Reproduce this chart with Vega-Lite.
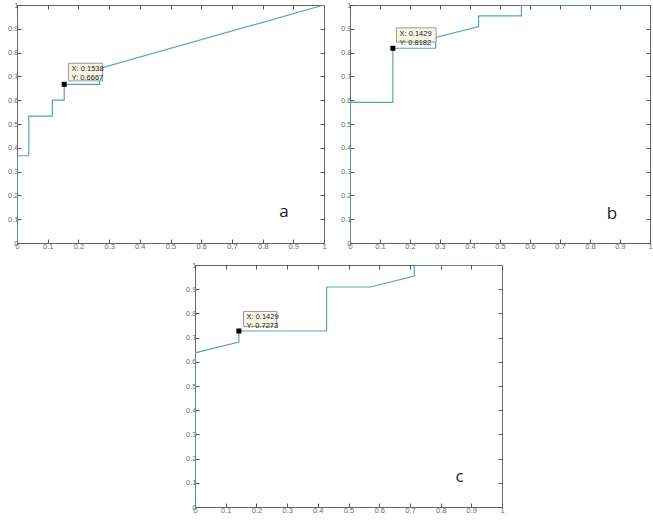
{
  "$schema": "https://vega.github.io/schema/vega-lite/v6.json",
  "autosize": {"type": "pad"},
  "padding": {"left": 7, "top": 0, "right": 0, "bottom": 0},
  "background": "white",
  "config": {
    "view": {"stroke": "#666", "strokeWidth": 1},
    "axis": {
      "grid": false,
      "domain": false,
      "ticks": true,
      "tickSize": -4,
      "tickColor": "#555",
      "labelFont": "Liberation Sans",
      "labelFontSize": 7.5,
      "labelColor": "#6a6a6a",
      "labelPadding": 3,
      "labelOverlap": false,
      "labelBound": false,
      "labelFlush": false,
      "title": null,
      "format": "~g"
    }
  },
  "spacing": 10,
  "vconcat": [
    {
      "spacing": 13,
      "hconcat": [
        {
          "width": 307,
          "height": 238,
          "data": {"values": [
            {"i": 0, "x": 0, "y": 0},
            {"i": 1, "x": 0, "y": 0.3667},
            {"i": 2, "x": 0.0385, "y": 0.3667},
            {"i": 3, "x": 0.0385, "y": 0.5333},
            {"i": 4, "x": 0.1154, "y": 0.5333},
            {"i": 5, "x": 0.1154, "y": 0.6},
            {"i": 6, "x": 0.1538, "y": 0.6},
            {"i": 7, "x": 0.1538, "y": 0.6667},
            {"i": 8, "x": 0.2692, "y": 0.6667},
            {"i": 9, "x": 0.2692, "y": 0.7333},
            {"i": 10, "x": 1, "y": 1}
          ]},
          "layer": [
            {
              "mark": {"type": "line", "color": "#5b9fc6", "strokeWidth": 1.2, "clip": true},
              "encoding": {
                "x": {"field": "x", "type": "quantitative", "scale": {"domain": [0, 1], "nice": false}, "axis": {"orient": "bottom", "values": [0, 0.1, 0.2, 0.3, 0.4, 0.5, 0.6, 0.7, 0.8, 0.9, 1]}},
                "y": {"field": "y", "type": "quantitative", "scale": {"domain": [0, 1], "nice": false}, "axis": {"orient": "left", "values": [0, 0.1, 0.2, 0.3, 0.4, 0.5, 0.6, 0.7, 0.8, 0.9, 1]}},
                "order": {"field": "i"}
              }
            },
            {
              "mark": {"type": "line", "opacity": 0},
              "encoding": {
                "x": {"field": "x", "type": "quantitative", "axis": {"orient": "top", "labels": false, "values": [0, 0.1, 0.2, 0.3, 0.4, 0.5, 0.6, 0.7, 0.8, 0.9, 1]}},
                "y": {"field": "y", "type": "quantitative", "axis": {"orient": "right", "labels": false, "values": [0, 0.1, 0.2, 0.3, 0.4, 0.5, 0.6, 0.7, 0.8, 0.9, 1]}},
                "order": {"field": "i"}
              }
            },
            {
              "data": {"values": [{"x1": 0.168, "x2": 0.279, "y1": 0.681, "y2": 0.755, "tip": "X: 0.1538\nY: 0.6667", "px": 0.1538, "py": 0.6667}]},
              "layer": [
                {
                  "mark": {"type": "rect", "fill": "#f7f5e4", "stroke": "#9a9a9a", "strokeWidth": 1},
                  "encoding": {
                    "x": {"field": "x1", "type": "quantitative", "axis": null},
                    "x2": {"field": "x2"},
                    "y": {"field": "y1", "type": "quantitative", "axis": null},
                    "y2": {"field": "y2"}
                  }
                },
                {
                  "mark": {"type": "text", "align": "left", "baseline": "top", "dx": 3, "dy": 2, "fontSize": 7.5, "font": "Liberation Sans", "color": "#222", "lineBreak": "\n", "lineHeight": 9},
                  "encoding": {
                    "x": {"field": "x1", "type": "quantitative", "axis": null},
                    "y": {"field": "y2", "type": "quantitative", "axis": null},
                    "text": {"field": "tip"}
                  }
                },
                {
                  "mark": {"type": "square", "size": 25, "color": "black", "opacity": 1, "filled": true},
                  "encoding": {
                    "x": {"field": "px", "type": "quantitative", "axis": null},
                    "y": {"field": "py", "type": "quantitative", "axis": null}
                  }
                }
              ]
            },
            {
              "data": {"values": [{"lx": 0.87, "ly": 0.13, "label": "a"}]},
              "mark": {"type": "text", "fontSize": 17, "font": "Open Sans", "color": "#222"},
              "encoding": {
                "x": {"field": "lx", "type": "quantitative", "axis": null},
                "y": {"field": "ly", "type": "quantitative", "axis": null},
                "text": {"field": "label"}
              }
            }
          ],
          "resolve": {"axis": {"x": "independent", "y": "independent"}}
        },
        {
          "width": 300,
          "height": 238,
          "data": {"values": [
            {"i": 0, "x": 0, "y": 0},
            {"i": 1, "x": 0, "y": 0.5909},
            {"i": 2, "x": 0.1429, "y": 0.5909},
            {"i": 3, "x": 0.1429, "y": 0.8182},
            {"i": 4, "x": 0.2857, "y": 0.8182},
            {"i": 5, "x": 0.2857, "y": 0.8636},
            {"i": 6, "x": 0.4286, "y": 0.9091},
            {"i": 7, "x": 0.4286, "y": 0.9545},
            {"i": 8, "x": 0.5714, "y": 0.9545},
            {"i": 9, "x": 0.5714, "y": 1},
            {"i": 10, "x": 1, "y": 1}
          ]},
          "layer": [
            {
              "mark": {"type": "line", "color": "#5b9fc6", "strokeWidth": 1.2, "clip": true},
              "encoding": {
                "x": {"field": "x", "type": "quantitative", "scale": {"domain": [0, 1], "nice": false}, "axis": {"orient": "bottom", "values": [0, 0.1, 0.2, 0.3, 0.4, 0.5, 0.6, 0.7, 0.8, 0.9, 1]}},
                "y": {"field": "y", "type": "quantitative", "scale": {"domain": [0, 1], "nice": false}, "axis": {"orient": "left", "values": [0, 0.1, 0.2, 0.3, 0.4, 0.5, 0.6, 0.7, 0.8, 0.9, 1]}},
                "order": {"field": "i"}
              }
            },
            {
              "mark": {"type": "line", "opacity": 0},
              "encoding": {
                "x": {"field": "x", "type": "quantitative", "axis": {"orient": "top", "labels": false, "values": [0, 0.1, 0.2, 0.3, 0.4, 0.5, 0.6, 0.7, 0.8, 0.9, 1]}},
                "y": {"field": "y", "type": "quantitative", "axis": {"orient": "right", "labels": false, "values": [0, 0.1, 0.2, 0.3, 0.4, 0.5, 0.6, 0.7, 0.8, 0.9, 1]}},
                "order": {"field": "i"}
              }
            },
            {
              "data": {"values": [{"x1": 0.155, "x2": 0.287, "y1": 0.844, "y2": 0.904, "tip": "X: 0.1429\nY: 0.8182", "px": 0.1429, "py": 0.8182}]},
              "layer": [
                {
                  "mark": {"type": "rect", "fill": "#f7f5e4", "stroke": "#9a9a9a", "strokeWidth": 1},
                  "encoding": {
                    "x": {"field": "x1", "type": "quantitative", "axis": null},
                    "x2": {"field": "x2"},
                    "y": {"field": "y1", "type": "quantitative", "axis": null},
                    "y2": {"field": "y2"}
                  }
                },
                {
                  "mark": {"type": "text", "align": "left", "baseline": "top", "dx": 3, "dy": 2, "fontSize": 7.5, "font": "Liberation Sans", "color": "#222", "lineBreak": "\n", "lineHeight": 9},
                  "encoding": {
                    "x": {"field": "x1", "type": "quantitative", "axis": null},
                    "y": {"field": "y2", "type": "quantitative", "axis": null},
                    "text": {"field": "tip"}
                  }
                },
                {
                  "mark": {"type": "square", "size": 25, "color": "black", "opacity": 1, "filled": true},
                  "encoding": {
                    "x": {"field": "px", "type": "quantitative", "axis": null},
                    "y": {"field": "py", "type": "quantitative", "axis": null}
                  }
                }
              ]
            },
            {
              "data": {"values": [{"lx": 0.873, "ly": 0.123, "label": "b"}]},
              "mark": {"type": "text", "fontSize": 17, "font": "Open Sans", "color": "#222"},
              "encoding": {
                "x": {"field": "lx", "type": "quantitative", "axis": null},
                "y": {"field": "ly", "type": "quantitative", "axis": null},
                "text": {"field": "label"}
              }
            }
          ],
          "resolve": {"axis": {"x": "independent", "y": "independent"}}
        }
      ]
    },
    {
      "spacing": 10,
      "hconcat": [
        {
          "width": 158,
          "height": 10,
          "view": {"stroke": null},
          "data": {"values": [{"a": 1}]},
          "mark": {"type": "point", "opacity": 0},
          "encoding": {}
        },
        {
          "width": 307,
          "height": 242,
          "data": {"values": [
            {"i": 0, "x": 0, "y": 0},
            {"i": 1, "x": 0, "y": 0.6364},
            {"i": 2, "x": 0.1429, "y": 0.6818},
            {"i": 3, "x": 0.1429, "y": 0.7273},
            {"i": 4, "x": 0.4286, "y": 0.7273},
            {"i": 5, "x": 0.4286, "y": 0.9091},
            {"i": 6, "x": 0.5714, "y": 0.9091},
            {"i": 7, "x": 0.7143, "y": 0.9545},
            {"i": 8, "x": 0.7143, "y": 1},
            {"i": 9, "x": 1, "y": 1}
          ]},
          "layer": [
            {
              "mark": {"type": "line", "color": "#5b9fc6", "strokeWidth": 1.2, "clip": true},
              "encoding": {
                "x": {"field": "x", "type": "quantitative", "scale": {"domain": [0, 1], "nice": false}, "axis": {"orient": "bottom", "values": [0, 0.1, 0.2, 0.3, 0.4, 0.5, 0.6, 0.7, 0.8, 0.9, 1]}},
                "y": {"field": "y", "type": "quantitative", "scale": {"domain": [0, 1], "nice": false}, "axis": {"orient": "left", "values": [0, 0.1, 0.2, 0.3, 0.4, 0.5, 0.6, 0.7, 0.8, 0.9, 1]}},
                "order": {"field": "i"}
              }
            },
            {
              "mark": {"type": "line", "opacity": 0},
              "encoding": {
                "x": {"field": "x", "type": "quantitative", "axis": {"orient": "top", "labels": false, "values": [0, 0.1, 0.2, 0.3, 0.4, 0.5, 0.6, 0.7, 0.8, 0.9, 1]}},
                "y": {"field": "y", "type": "quantitative", "axis": {"orient": "right", "labels": false, "values": [0, 0.1, 0.2, 0.3, 0.4, 0.5, 0.6, 0.7, 0.8, 0.9, 1]}},
                "order": {"field": "i"}
              }
            },
            {
              "data": {"values": [{"x1": 0.158, "x2": 0.266, "y1": 0.746, "y2": 0.808, "tip": "X: 0.1429\nY: 0.7273", "px": 0.1429, "py": 0.7273}]},
              "layer": [
                {
                  "mark": {"type": "rect", "fill": "#f7f5e4", "stroke": "#9a9a9a", "strokeWidth": 1},
                  "encoding": {
                    "x": {"field": "x1", "type": "quantitative", "axis": null},
                    "x2": {"field": "x2"},
                    "y": {"field": "y1", "type": "quantitative", "axis": null},
                    "y2": {"field": "y2"}
                  }
                },
                {
                  "mark": {"type": "text", "align": "left", "baseline": "top", "dx": 3, "dy": 2, "fontSize": 7.5, "font": "Liberation Sans", "color": "#222", "lineBreak": "\n", "lineHeight": 9},
                  "encoding": {
                    "x": {"field": "x1", "type": "quantitative", "axis": null},
                    "y": {"field": "y2", "type": "quantitative", "axis": null},
                    "text": {"field": "tip"}
                  }
                },
                {
                  "mark": {"type": "square", "size": 25, "color": "black", "opacity": 1, "filled": true},
                  "encoding": {
                    "x": {"field": "px", "type": "quantitative", "axis": null},
                    "y": {"field": "py", "type": "quantitative", "axis": null}
                  }
                }
              ]
            },
            {
              "data": {"values": [{"lx": 0.862, "ly": 0.124, "label": "c"}]},
              "mark": {"type": "text", "fontSize": 17, "font": "Open Sans", "color": "#222"},
              "encoding": {
                "x": {"field": "lx", "type": "quantitative", "axis": null},
                "y": {"field": "ly", "type": "quantitative", "axis": null},
                "text": {"field": "label"}
              }
            }
          ],
          "resolve": {"axis": {"x": "independent", "y": "independent"}}
        }
      ]
    }
  ]
}
